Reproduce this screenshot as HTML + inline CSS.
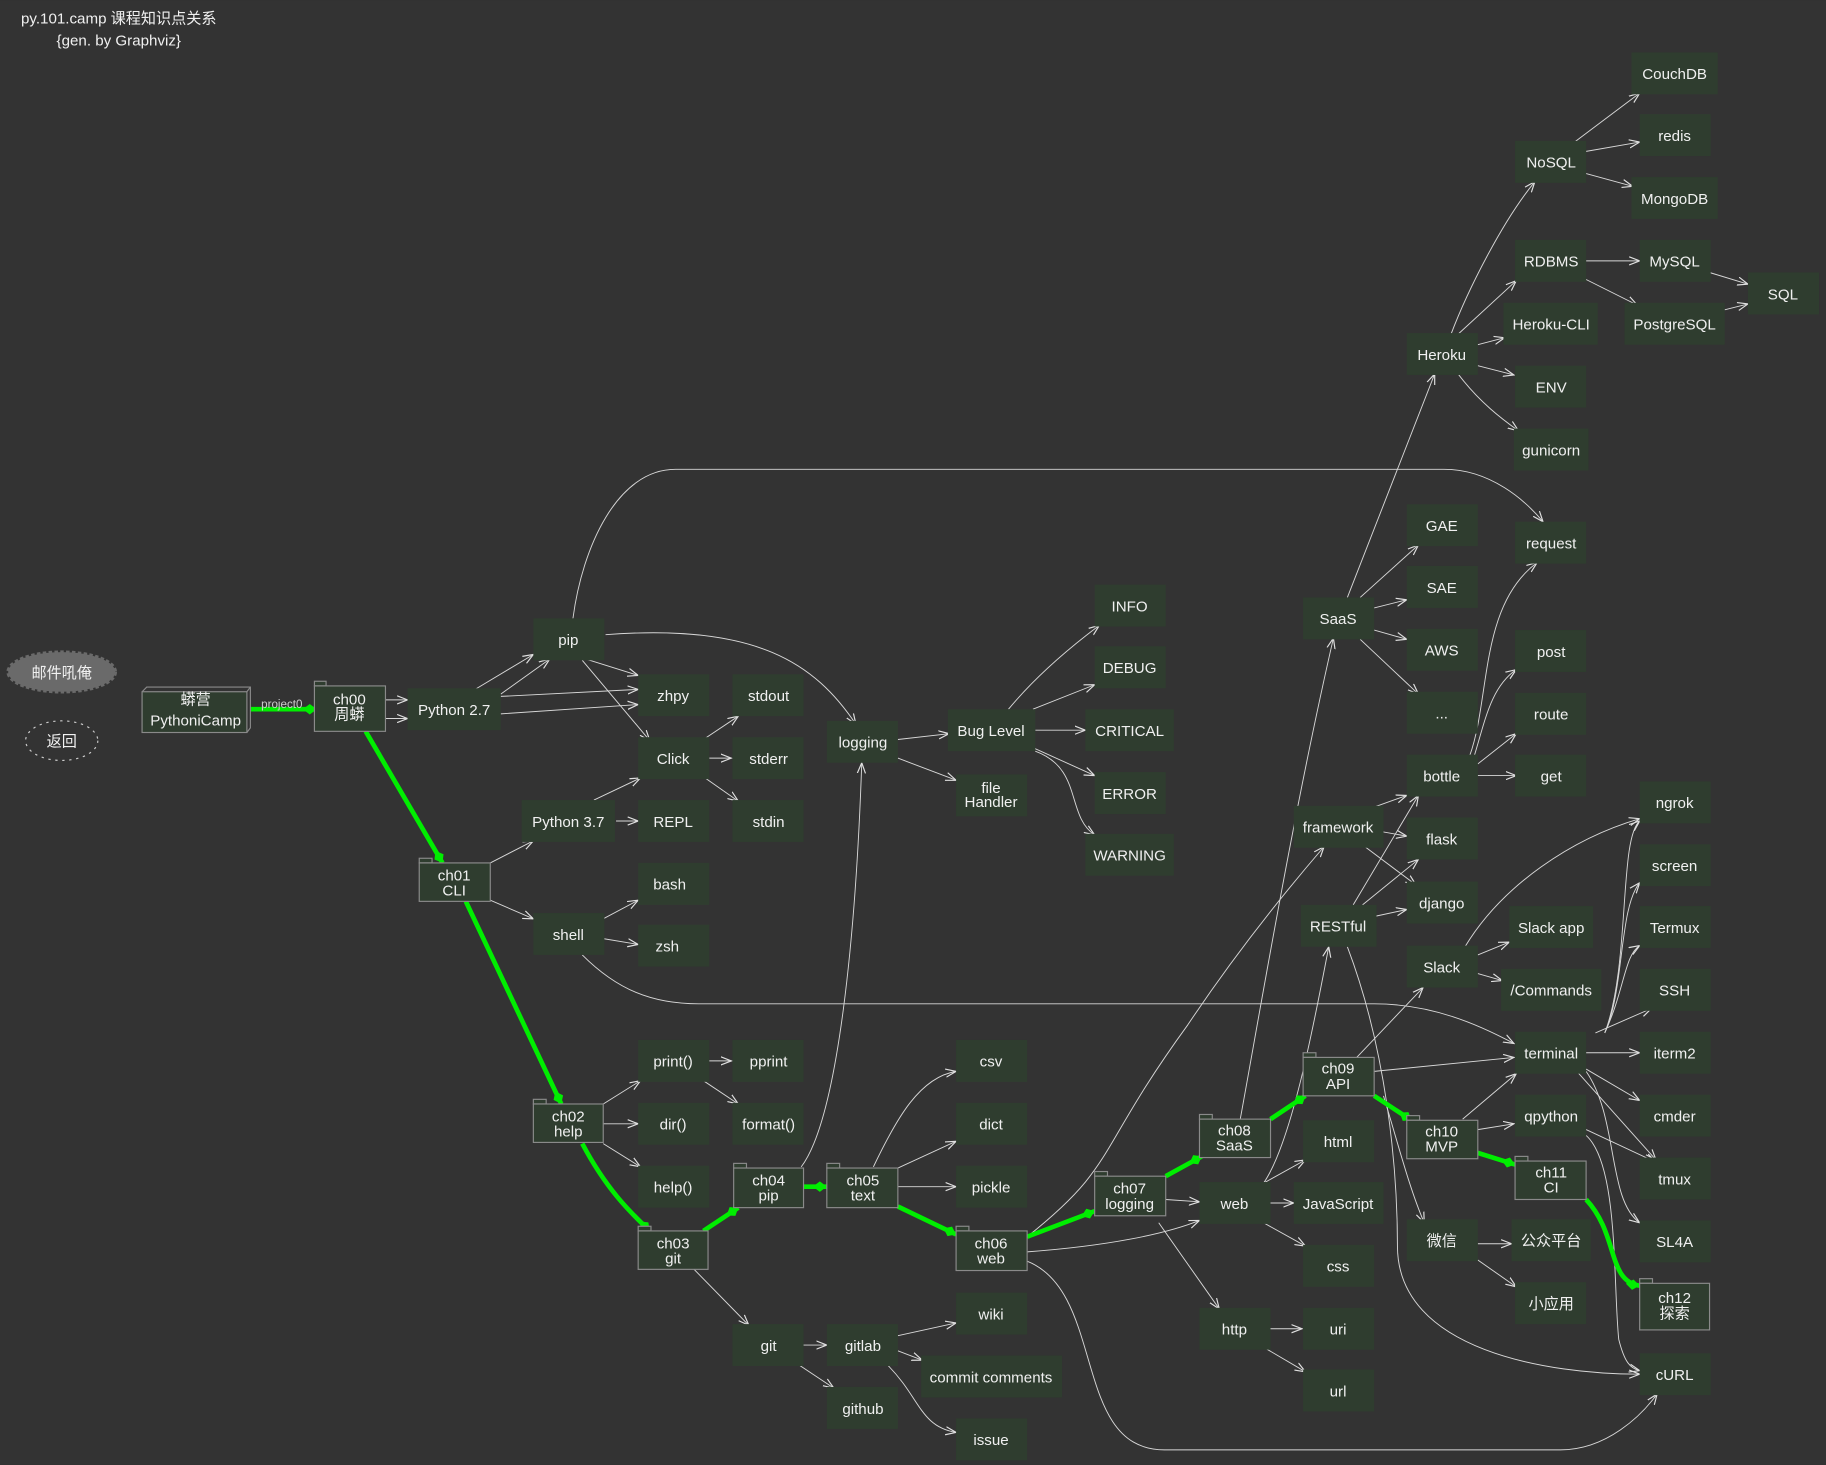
<!DOCTYPE html>
<html><head><meta charset="utf-8"><style>
html,body{margin:0;padding:0;background:#333;}
svg{display:block}
text{font-family:"Liberation Sans","Noto Sans CJK SC",sans-serif;fill:#f0f0f0;font-size:13px;text-anchor:middle}
.n{fill:#2f3d2f}
.f{fill:#2f3d2f;stroke:#8a8a8a;stroke-width:1}
.e{fill:none;stroke:#d8d8d8;stroke-width:0.8;marker-end:url(#a)}
.g{fill:none;stroke:#00ee00;stroke-width:4;marker-end:url(#d)}
</style></head><body>
<svg width="1826" height="1465" viewBox="0 0 1568 1258" xmlns="http://www.w3.org/2000/svg">
<defs>
<marker id="a" markerWidth="10" markerHeight="8" refX="9" refY="4" orient="auto" markerUnits="userSpaceOnUse"><polyline points="0,0.5 9,4 0,7.5" fill="none" stroke="#e0e0e0" stroke-width="1"/></marker>
<marker id="d" markerWidth="14" markerHeight="10" refX="12" refY="5" orient="auto" markerUnits="userSpaceOnUse"><polygon points="0,5 6,0.5 12,5 6,9.5" fill="#00ee00"/></marker>
</defs>
<rect width="1568" height="1258" fill="#333"/>
<text x="102" y="20" style="font-size:13px">py.101.camp 课程知识点关系</text>
<text x="102" y="39" style="font-size:13px">{gen. by Graphviz}</text>
<ellipse cx="53" cy="577" rx="46" ry="17" fill="#6a6a6a" stroke="#6a6a6a" stroke-width="3" stroke-dasharray="3,2"/>
<text x="53" y="582">邮件吼俺</text>
<ellipse cx="53" cy="636" rx="31" ry="17" fill="none" stroke="#ccc" stroke-width="1" stroke-dasharray="2,4"/>
<text x="53" y="641">返回</text>

<!-- edges -->
<g>
<path class="e" d="M331,601L350,601"/><path class="e" d="M331,617L350,617"/>
<path class="e" d="M408,592L458,562"/><path class="e" d="M430,596L472,566"/>
<path class="e" d="M430,598L548,592"/><path class="e" d="M430,613L548,605"/>
<path class="e" d="M500,565L548,580"/><path class="e" d="M500,567L558,636"/>
<path class="e" d="M520,545C650,535 700,570 735,622"/>
<path class="e" d="M492,531C500,470 530,403 580,403L1240,403C1280,403 1310,430 1325,448"/>
<path class="e" d="M604,635L634,615"/><path class="e" d="M609,651L628,651"/><path class="e" d="M604,667L634,688"/>
<path class="e" d="M510,687L550,668"/><path class="e" d="M529,705L548,705"/>
<path class="e" d="M421,741L458,722"/><path class="e" d="M421,773L458,789"/>
<path class="e" d="M518,789L548,773"/><path class="e" d="M518,806L548,811"/>
<path class="e" d="M500,820C530,850 560,862 600,862L1180,862C1230,862 1270,880 1300,896"/>
<path class="e" d="M518,948L550,928"/><path class="e" d="M518,965L548,965"/><path class="e" d="M518,982L550,1002"/>
<path class="e" d="M609,911L628,911"/><path class="e" d="M604,928L634,948"/>
<path class="e" d="M688,1002C720,960 735,800 740,655"/>
<path class="e" d="M750,1002C770,960 790,925 821,920"/>
<path class="e" d="M771,1003L821,980"/><path class="e" d="M771,1019L821,1019"/>
<path class="e" d="M596,1090L643,1138"/><path class="e" d="M690,1155L710,1155"/><path class="e" d="M686,1172L716,1192"/>
<path class="e" d="M771,1147L821,1136"/><path class="e" d="M771,1160L792,1168"/>
<path class="e" d="M762,1172C790,1200 790,1225 821,1230"/>
<path class="e" d="M771,635L815,630"/><path class="e" d="M771,651L821,670"/>
<path class="e" d="M866,609C890,580 920,555 944,537"/><path class="e" d="M887,609L940,588"/>
<path class="e" d="M889,627L932,627"/><path class="e" d="M887,642L940,666"/>
<path class="e" d="M889,645C930,660 915,700 940,717"/>
<path class="e" d="M882,1062C960,1000 940,990 1020,880C1060,820 1100,770 1137,727"/>
<path class="e" d="M882,1075C950,1070 1000,1060 1030,1048"/>
<path class="e" d="M882,1083C950,1110 920,1245 1000,1245L1340,1245C1380,1245 1410,1215 1423,1197"/>
<path class="e" d="M1001,1030L1030,1032"/>
<path class="e" d="M1065,961C1080,880 1110,700 1145,548"/>
<path class="e" d="M1085,1016L1121,996"/><path class="e" d="M1091,1033L1111,1033"/><path class="e" d="M1085,1050L1121,1070"/>
<path class="e" d="M995,1050L1047,1124"/>
<path class="e" d="M1085,1016C1110,980 1130,870 1141,813"/>
<path class="e" d="M1091,1141L1118,1141"/><path class="e" d="M1087,1158L1121,1178"/>
<path class="e" d="M1157,513L1232,321"/>
<path class="e" d="M1168,513L1218,468"/><path class="e" d="M1180,522L1208,515"/>
<path class="e" d="M1180,541L1208,549"/><path class="e" d="M1168,549L1218,596"/>
<path class="e" d="M1246,287C1260,250 1290,190 1318,156"/>
<path class="e" d="M1252,287L1302,241"/><path class="e" d="M1269,296L1292,290"/>
<path class="e" d="M1269,314L1300,322"/><path class="e" d="M1252,321C1270,345 1290,360 1304,370"/>
<path class="e" d="M1352,122L1408,80"/><path class="e" d="M1362,130L1408,122"/><path class="e" d="M1362,149L1402,160"/>
<path class="e" d="M1362,224L1408,224"/><path class="e" d="M1362,240L1406,262"/>
<path class="e" d="M1468,234L1501,244"/><path class="e" d="M1481,266L1501,261"/>
<path class="e" d="M1180,693L1208,683"/><path class="e" d="M1180,713L1208,718"/><path class="e" d="M1172,727L1216,760"/>
<path class="e" d="M1162,777L1218,683"/><path class="e" d="M1170,777L1218,738"/><path class="e" d="M1180,787L1208,781"/>
<path class="e" d="M1157,813C1190,900 1200,1000 1200,1070C1200,1160 1330,1180 1408,1180"/>
<path class="e" d="M1262,649C1280,600 1270,520 1320,483"/>
<path class="e" d="M1266,649C1275,620 1280,590 1302,575"/>
<path class="e" d="M1269,656L1302,630"/><path class="e" d="M1269,666L1302,666"/>
<path class="e" d="M1258,813C1290,760 1350,720 1408,703"/>
<path class="e" d="M1269,820L1296,809"/><path class="e" d="M1269,836L1290,842"/>
<path class="e" d="M1165,908L1222,848"/><path class="e" d="M1180,920L1300,908"/>
<path class="e" d="M1188,941C1200,980 1210,1020 1223,1050"/>
<path class="e" d="M1378,887C1400,830 1390,720 1408,705"/>
<path class="e" d="M1378,887C1395,850 1390,780 1408,758"/>
<path class="e" d="M1378,887C1395,850 1395,820 1408,812"/>
<path class="e" d="M1370,887L1418,866"/><path class="e" d="M1362,904L1408,904"/>
<path class="e" d="M1362,918L1408,945"/><path class="e" d="M1355,921L1422,996"/>
<path class="e" d="M1362,920C1390,960 1380,1030 1408,1050"/>
<path class="e" d="M1256,961L1302,922"/><path class="e" d="M1269,970L1300,965"/>
<path class="e" d="M1362,970L1422,998"/>
<path class="e" d="M1362,975C1390,1000 1385,1100 1390,1150C1395,1170 1400,1175 1408,1177"/>
<path class="e" d="M1269,1068L1298,1068"/><path class="e" d="M1269,1082L1302,1105"/>
</g>
<g>
<path class="g" d="M215,609L272,609"/>
<path class="g" d="M314,628L380,741"/>
<path class="g" d="M400,774L482,948"/>
<path class="g" d="M500,982C520,1020 540,1040 558,1057"/>
<path class="g" d="M604,1057L634,1037"/>
<path class="g" d="M690,1019L710,1019"/>
<path class="g" d="M771,1036L821,1060"/>
<path class="g" d="M882,1062L940,1040"/>
<path class="g" d="M1001,1010L1032,993"/>
<path class="g" d="M1091,961L1121,941"/>
<path class="g" d="M1180,941L1212,962"/>
<path class="g" d="M1269,990L1301,1000"/>
<path class="g" d="M1362,1030C1390,1060 1380,1100 1408,1104"/>
</g>
<text x="242" y="608" style="font-size:10px;fill:#ccc">project0</text>

<!-- 蟒营 3D box -->
<rect x="122" y="594" width="90" height="35" class="f"/>
<polyline points="122,594 126,590 215,590 215,625 212,629" fill="none" stroke="#8a8a8a"/>
<line x1="212" y1="594" x2="215" y2="590" stroke="#8a8a8a"/>
<text x="168" y="605">蟒营</text><text x="168" y="623">PythoniCamp</text>

<!-- folder nodes -->
<g>
<rect x="270" y="585" width="10" height="4" class="f"/><rect x="270" y="589" width="61" height="39" class="f"/><text x="300" y="605">ch00</text><text x="300" y="618">周蟒</text>
<rect x="360" y="737" width="11" height="4" class="f"/><rect x="360" y="741" width="61" height="33" class="f"/><text x="390" y="756">ch01</text><text x="390" y="769">CLI</text>
<rect x="458" y="944" width="11" height="4" class="f"/><rect x="458" y="948" width="60" height="33" class="f"/><text x="488" y="963">ch02</text><text x="488" y="976">help</text>
<rect x="548" y="1053" width="11" height="4" class="f"/><rect x="548" y="1057" width="60" height="33" class="f"/><text x="578" y="1072">ch03</text><text x="578" y="1085">git</text>
<rect x="630" y="999" width="11" height="4" class="f"/><rect x="630" y="1003" width="60" height="34" class="f"/><text x="660" y="1018">ch04</text><text x="660" y="1031">pip</text>
<rect x="710" y="999" width="11" height="4" class="f"/><rect x="710" y="1003" width="61" height="34" class="f"/><text x="741" y="1018">ch05</text><text x="741" y="1031">text</text>
<rect x="821" y="1053" width="11" height="4" class="f"/><rect x="821" y="1057" width="61" height="34" class="f"/><text x="851" y="1072">ch06</text><text x="851" y="1085">web</text>
<rect x="940" y="1006" width="11" height="4" class="f"/><rect x="940" y="1010" width="61" height="34" class="f"/><text x="970" y="1025">ch07</text><text x="970" y="1038">logging</text>
<rect x="1030" y="957" width="11" height="4" class="f"/><rect x="1030" y="961" width="61" height="33" class="f"/><text x="1060" y="975">ch08</text><text x="1060" y="988">SaaS</text>
<rect x="1119" y="904" width="11" height="4" class="f"/><rect x="1119" y="908" width="61" height="33" class="f"/><text x="1149" y="922">ch09</text><text x="1149" y="935">API</text>
<rect x="1208" y="958" width="11" height="4" class="f"/><rect x="1208" y="962" width="61" height="33" class="f"/><text x="1238" y="976">ch10</text><text x="1238" y="989">MVP</text>
<rect x="1301" y="993" width="11" height="4" class="f"/><rect x="1301" y="997" width="61" height="33" class="f"/><text x="1332" y="1011">ch11</text><text x="1332" y="1024">CI</text>
<rect x="1408" y="1098" width="11" height="4" class="f"/><rect x="1408" y="1102" width="60" height="40" class="f"/><text x="1438" y="1119">ch12</text><text x="1438" y="1132">探索</text>
</g>

<!-- plain nodes -->
<g>
<rect class="n" x="350" y="591" width="80" height="36"/><text x="390" y="614">Python 2.7</text>
<rect class="n" x="458" y="531" width="61" height="36"/><text x="488" y="554">pip</text>
<rect class="n" x="548" y="579" width="61" height="36"/><text x="578" y="602">zhpy</text>
<rect class="n" x="548" y="633" width="61" height="36"/><text x="578" y="656">Click</text>
<rect class="n" x="548" y="687" width="61" height="36"/><text x="578" y="710">REPL</text>
<rect class="n" x="448" y="687" width="80" height="36"/><text x="488" y="710">Python 3.7</text>
<rect class="n" x="629" y="579" width="61" height="36"/><text x="660" y="602">stdout</text>
<rect class="n" x="629" y="633" width="61" height="36"/><text x="660" y="656">stderr</text>
<rect class="n" x="629" y="687" width="61" height="36"/><text x="660" y="710">stdin</text>
<rect class="n" x="548" y="741" width="61" height="36"/><text x="575" y="764">bash</text>
<rect class="n" x="548" y="794" width="61" height="36"/><text x="573" y="817">zsh</text>
<rect class="n" x="458" y="784" width="61" height="36"/><text x="488" y="807">shell</text>
<rect class="n" x="548" y="893" width="61" height="36"/><text x="578" y="916">print()</text>
<rect class="n" x="548" y="947" width="61" height="36"/><text x="578" y="970">dir()</text>
<rect class="n" x="548" y="1001" width="61" height="36"/><text x="578" y="1024">help()</text>
<rect class="n" x="629" y="893" width="61" height="36"/><text x="660" y="916">pprint</text>
<rect class="n" x="629" y="947" width="61" height="36"/><text x="660" y="970">format()</text>
<rect class="n" x="710" y="619" width="61" height="36"/><text x="741" y="642">logging</text>
<rect class="n" x="814" y="609" width="75" height="36"/><text x="851" y="632">Bug Level</text>
<rect class="n" x="821" y="665" width="61" height="36"/><text x="851" y="681">file</text><text x="851" y="693">Handler</text>
<rect class="n" x="940" y="502" width="61" height="36"/><text x="970" y="525">INFO</text>
<rect class="n" x="940" y="555" width="61" height="36"/><text x="970" y="578">DEBUG</text>
<rect class="n" x="932" y="609" width="76" height="36"/><text x="970" y="632">CRITICAL</text>
<rect class="n" x="940" y="663" width="61" height="36"/><text x="970" y="686">ERROR</text>
<rect class="n" x="932" y="716" width="76" height="36"/><text x="970" y="739">WARNING</text>
<rect class="n" x="821" y="893" width="61" height="36"/><text x="851" y="916">csv</text>
<rect class="n" x="821" y="947" width="61" height="36"/><text x="851" y="970">dict</text>
<rect class="n" x="821" y="1001" width="61" height="36"/><text x="851" y="1024">pickle</text>
<rect class="n" x="629" y="1137" width="61" height="36"/><text x="660" y="1160">git</text>
<rect class="n" x="710" y="1137" width="61" height="36"/><text x="741" y="1160">gitlab</text>
<rect class="n" x="710" y="1191" width="61" height="36"/><text x="741" y="1214">github</text>
<rect class="n" x="821" y="1110" width="61" height="36"/><text x="851" y="1133">wiki</text>
<rect class="n" x="791" y="1164" width="121" height="36"/><text x="851" y="1187">commit comments</text>
<rect class="n" x="821" y="1218" width="61" height="36"/><text x="851" y="1241">issue</text>
<rect class="n" x="1030" y="1015" width="61" height="36"/><text x="1060" y="1038">web</text>
<rect class="n" x="1030" y="1123" width="61" height="36"/><text x="1060" y="1146">http</text>
<rect class="n" x="1119" y="962" width="61" height="36"/><text x="1149" y="985">html</text>
<rect class="n" x="1111" y="1015" width="77" height="36"/><text x="1149" y="1038">JavaScript</text>
<rect class="n" x="1119" y="1069" width="61" height="36"/><text x="1149" y="1092">css</text>
<rect class="n" x="1119" y="1123" width="61" height="36"/><text x="1149" y="1146">uri</text>
<rect class="n" x="1119" y="1176" width="61" height="36"/><text x="1149" y="1199">url</text>
<rect class="n" x="1119" y="513" width="61" height="36"/><text x="1149" y="536">SaaS</text>
<rect class="n" x="1111" y="692" width="77" height="36"/><text x="1149" y="715">framework</text>
<rect class="n" x="1117" y="777" width="65" height="36"/><text x="1149" y="800">RESTful</text>
<rect class="n" x="1208" y="286" width="61" height="36"/><text x="1238" y="309">Heroku</text>
<rect class="n" x="1208" y="433" width="61" height="36"/><text x="1238" y="456">GAE</text>
<rect class="n" x="1208" y="486" width="61" height="36"/><text x="1238" y="509">SAE</text>
<rect class="n" x="1208" y="540" width="61" height="36"/><text x="1238" y="563">AWS</text>
<rect class="n" x="1208" y="594" width="61" height="36"/><text x="1238" y="617">...</text>
<rect class="n" x="1208" y="648" width="61" height="36"/><text x="1238" y="671">bottle</text>
<rect class="n" x="1208" y="702" width="61" height="36"/><text x="1238" y="725">flask</text>
<rect class="n" x="1208" y="757" width="61" height="36"/><text x="1238" y="780">django</text>
<rect class="n" x="1208" y="812" width="61" height="36"/><text x="1238" y="835">Slack</text>
<rect class="n" x="1208" y="1047" width="61" height="36"/><text x="1238" y="1070">微信</text>
<rect class="n" x="1301" y="121" width="61" height="36"/><text x="1332" y="144">NoSQL</text>
<rect class="n" x="1301" y="206" width="61" height="36"/><text x="1332" y="229">RDBMS</text>
<rect class="n" x="1291" y="260" width="81" height="36"/><text x="1332" y="283">Heroku-CLI</text>
<rect class="n" x="1301" y="314" width="61" height="36"/><text x="1332" y="337">ENV</text>
<rect class="n" x="1300" y="368" width="64" height="36"/><text x="1332" y="391">gunicorn</text>
<rect class="n" x="1301" y="448" width="61" height="36"/><text x="1332" y="471">request</text>
<rect class="n" x="1301" y="541" width="61" height="36"/><text x="1332" y="564">post</text>
<rect class="n" x="1301" y="595" width="61" height="36"/><text x="1332" y="618">route</text>
<rect class="n" x="1301" y="648" width="61" height="36"/><text x="1332" y="671">get</text>
<rect class="n" x="1296" y="778" width="72" height="36"/><text x="1332" y="801">Slack app</text>
<rect class="n" x="1289" y="832" width="86" height="36"/><text x="1332" y="855">/Commands</text>
<rect class="n" x="1301" y="886" width="61" height="36"/><text x="1332" y="909">terminal</text>
<rect class="n" x="1301" y="940" width="61" height="36"/><text x="1332" y="963">qpython</text>
<rect class="n" x="1298" y="1047" width="68" height="36"/><text x="1332" y="1070">公众平台</text>
<rect class="n" x="1301" y="1101" width="61" height="36"/><text x="1332" y="1124">小应用</text>
<rect class="n" x="1401" y="45" width="74" height="36"/><text x="1438" y="68">CouchDB</text>
<rect class="n" x="1408" y="98" width="61" height="36"/><text x="1438" y="121">redis</text>
<rect class="n" x="1401" y="152" width="74" height="36"/><text x="1438" y="175">MongoDB</text>
<rect class="n" x="1408" y="206" width="61" height="36"/><text x="1438" y="229">MySQL</text>
<rect class="n" x="1395" y="260" width="86" height="36"/><text x="1438" y="283">PostgreSQL</text>
<rect class="n" x="1501" y="234" width="61" height="36"/><text x="1531" y="257">SQL</text>
<rect class="n" x="1408" y="671" width="61" height="36"/><text x="1438" y="694">ngrok</text>
<rect class="n" x="1408" y="725" width="61" height="36"/><text x="1438" y="748">screen</text>
<rect class="n" x="1408" y="778" width="61" height="36"/><text x="1438" y="801">Termux</text>
<rect class="n" x="1408" y="832" width="61" height="36"/><text x="1438" y="855">SSH</text>
<rect class="n" x="1408" y="886" width="61" height="36"/><text x="1438" y="909">iterm2</text>
<rect class="n" x="1408" y="940" width="61" height="36"/><text x="1438" y="963">cmder</text>
<rect class="n" x="1408" y="994" width="61" height="36"/><text x="1438" y="1017">tmux</text>
<rect class="n" x="1408" y="1048" width="61" height="36"/><text x="1438" y="1071">SL4A</text>
<rect class="n" x="1408" y="1162" width="61" height="36"/><text x="1438" y="1185">cURL</text>
</g>
</svg>
</body></html>
